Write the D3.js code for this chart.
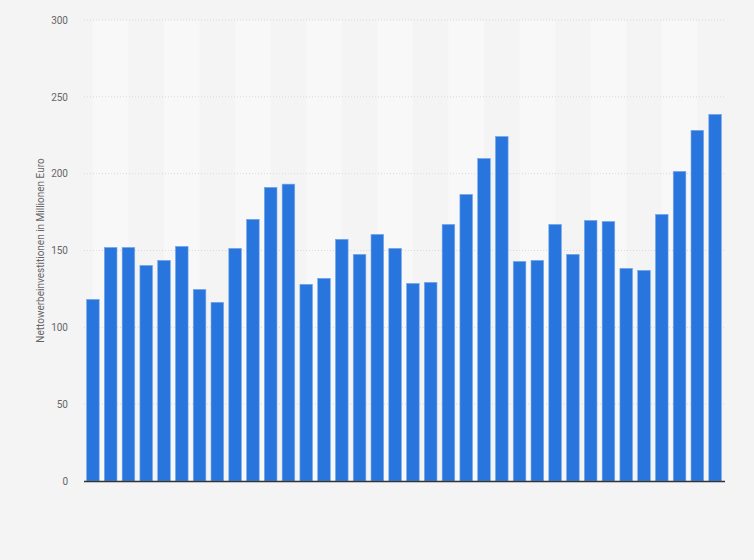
<!DOCTYPE html>
<html>
<head>
<meta charset="utf-8">
<script src="https://cdn.jsdelivr.net/npm/d3@7"></script>
<style>
  body { margin: 0; padding: 0; background: #f4f4f4; font-family: Roboto, "Liberation Sans", Arial, sans-serif; }
  svg { display: block; }
</style>
</head>
<body>
<svg id="chart" width="754" height="560"></svg>
<script>
// bar values, one per year (no x labels shown in the source)
const values = [
  118.2, 152.0, 152.0, 140.3, 143.6, 152.7, 124.7, 116.3, 151.4, 170.3,
  191.1, 193.2, 128.0, 131.9, 157.3, 147.5, 160.5, 151.4, 128.6, 129.3,
  167.0, 186.5, 209.9, 224.2, 142.9, 143.6, 167.0, 147.5, 169.6, 168.9,
  138.4, 137.1, 173.5, 201.5, 228.2, 238.6
];
const yTicks = [0, 50, 100, 150, 200, 250, 300];
const yTitle = "Nettowerbeinvestitionen in Millionen Euro";

const margin = { top: 20, right: 30, bottom: 79, left: 84 };
const width = 754, height = 560;
const innerW = width - margin.left - margin.right;
const innerH = height - margin.top - margin.bottom;

const svg = d3.select("#chart");
svg.append("rect").attr("width", width).attr("height", height).attr("fill", "#f4f4f4");

const g = svg.append("g").attr("transform", `translate(${margin.left},${margin.top})`);

const x = d3.scaleBand()
  .domain(values.map((d, i) => i))
  .range([0, innerW])
  .paddingInner(0.29)
  .paddingOuter(0.145);

const y = d3.scaleLinear().domain([0, 300]).range([innerH, 0]);

// alternating background bands, from the centre of bar 4k to the centre of bar 4k+2
const step = x.step();
const bandStarts = values.map((d, i) => i).filter(i => i % 4 === 0 && i + 2 < values.length);
g.selectAll(".band")
  .data(bandStarts)
  .join("rect")
  .attr("class", "band")
  .attr("x", i => x(i) + x.bandwidth() / 2)
  .attr("y", 0)
  .attr("width", step * 2)
  .attr("height", innerH)
  .attr("fill", "#f8f8f8");

// grid lines
g.selectAll(".grid")
  .data(yTicks.filter(t => t > 0))
  .join("line")
  .attr("class", "grid")
  .attr("x1", 0)
  .attr("x2", innerW)
  .attr("y1", d => y(d))
  .attr("y2", d => y(d))
  .attr("stroke", "#d9d9d9")
  .attr("stroke-width", 1)
  .attr("stroke-dasharray", "1,2");

// y axis labels
const yAxis = d3.axisLeft(y).tickValues(yTicks).tickSize(0).tickPadding(16);
g.append("g")
  .call(yAxis)
  .call(a => a.select(".domain").remove())
  .call(a => a.selectAll("text")
    .attr("fill", "#666")
    .attr("font-size", "10px")
    .attr("font-family", "Roboto, 'Liberation Sans', Arial, sans-serif"));

// bars
g.selectAll(".bar")
  .data(values)
  .join("rect")
  .attr("class", "bar")
  .attr("x", (d, i) => x(i))
  .attr("y", d => y(d))
  .attr("width", x.bandwidth())
  .attr("height", d => innerH - y(d))
  .attr("fill", "#2876dd")
  .attr("stroke", "#7aa9ea")
  .attr("stroke-width", 0.6);

// baseline
g.append("line")
  .attr("x1", 0)
  .attr("x2", innerW + 1)
  .attr("y1", innerH + 0.5)
  .attr("y2", innerH + 0.5)
  .attr("stroke", "#333")
  .attr("stroke-width", 1.5);

// y axis title
svg.append("text")
  .attr("transform", `translate(44,${margin.top + y(150)}) rotate(-90)`)
  .attr("text-anchor", "middle")
  .attr("fill", "#666")
  .attr("font-size", "10px")
  .text(yTitle);
</script>
</body>
</html>
